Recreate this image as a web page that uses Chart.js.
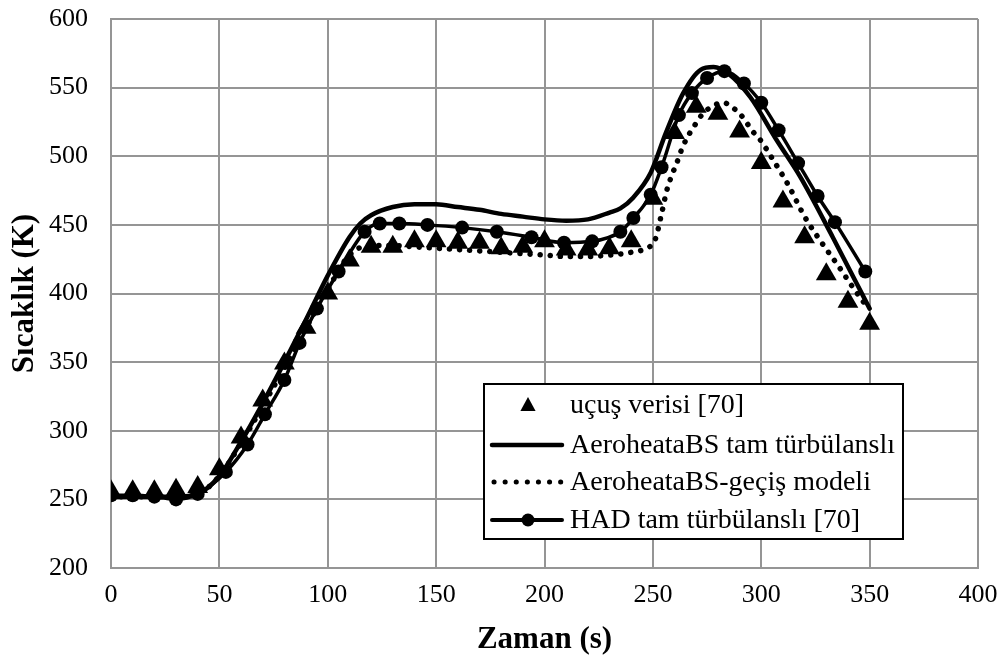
<!DOCTYPE html>
<html>
<head>
<meta charset="utf-8">
<script src="https://cdn.jsdelivr.net/npm/chart.js@4.4.1/dist/chart.umd.min.js"></script>
<style>
  html, body { margin: 0; padding: 0; background: #ffffff; }
  #wrap { width: 1000px; height: 659px; }
</style>
</head>
<body>
<div id="wrap"><canvas id="c" width="1000" height="659"></canvas></div>
<script>
// ---- Data ----
const xTicks = [0, 50, 100, 150, 200, 250, 300, 350, 400];
const yTicks = [200, 250, 300, 350, 400, 450, 500, 550, 600];

const seriesNames = [
  "uçuş verisi [70]",
  "AeroheataBS tam türbülanslı",
  "AeroheataBS-geçiş modeli",
  "HAD tam türbülanslı [70]"
];

// uçuş verisi (flight data, triangles)
const flightTime = [0, 10, 20, 30, 40, 50, 60, 70, 80, 90, 100, 110, 120, 130, 140, 150, 160, 170,
  180, 190, 200, 210, 220, 230, 240, 250, 260, 270, 280, 290, 300, 310, 320, 330, 340, 350];
const flightTemp = [256, 256, 256, 257, 259, 272, 295, 322, 349, 375, 400, 424, 434, 434, 438, 438, 437, 437,
  433, 434, 438, 432, 432, 433, 438, 469, 517, 536, 531, 518, 495, 467, 441, 414, 394, 378];

// AeroheataBS tam türbülanslı (solid line)
const turbTime = [0, 10, 20, 30, 40, 50, 60, 70, 80, 90, 100, 110, 115, 120, 130, 140, 150, 160, 170,
  180, 190, 200, 210, 220, 230, 235, 241, 249, 256, 264, 272, 278, 285, 295, 307, 318, 333, 350];
const turbTemp = [252, 252, 252, 252, 254, 267, 292, 320, 350, 381, 413, 441, 451, 457, 463, 465, 465, 463, 461,
  458, 456, 454, 453, 454, 459, 462, 470, 488, 517, 546, 563, 565, 560, 543, 512, 485, 441, 389];

// AeroheataBS-geçiş modeli (dotted line)
const transTime = [0, 10, 20, 30, 40, 50, 60, 70, 80, 90, 100, 110, 120, 130, 140, 150, 160, 170, 180, 190,
  200, 210, 220, 230, 240, 247, 251, 254, 256.4, 258.7, 261, 263.3, 265.6, 268.7, 272.5, 277, 282.5, 288,
  291.7, 295.6, 299.5, 305.6, 312.5, 320, 327.9, 335.6, 342.5, 349.4];
const transTemp = [252, 252, 252, 252, 254, 267, 291, 318, 346, 375, 403, 428, 435, 435, 434, 433, 432, 431, 430, 429,
  428, 427, 427, 428, 430, 433, 439, 458, 475, 486, 495, 505, 513, 521, 530, 536, 539, 534,
  528, 519, 512, 497, 479, 456, 437, 420, 404, 389];

// HAD tam türbülanslı [70] (line with circles)
const hadTime = [0, 10, 20, 30, 40, 53, 63, 71, 80, 87, 95, 105, 117, 124, 133, 146, 162, 178, 194, 209,
  222, 235, 241, 249, 254, 262, 268, 275, 283, 292, 300, 308, 317, 326, 334, 348];
const hadTemp = [253, 253, 252, 250, 254, 270, 290, 312, 337, 364, 389, 416, 445, 451, 451, 450, 448, 445, 441, 437,
  438, 445, 455, 472, 492, 530, 546, 557, 562, 553, 539, 519, 495, 471, 452, 416];

function pts(xs, ys) { return xs.map((x, i) => ({ x: x, y: ys[i] })); }

const FONT = "'Liberation Serif', 'Times New Roman', serif";
const GRID = '#959595';

function noPad(s) { s.paddingTop = 0; s.paddingBottom = 0; s.paddingLeft = 0; s.paddingRight = 0; }

// ---- Legend drawn inside the plot (like the reference) ----
const insideLegend = {
  id: 'insideLegend',
  afterDraw(chart) {
    const ctx = chart.ctx;
    const sx = chart.scales.x, sy = chart.scales.y;
    const bx = Math.round(sx.getPixelForValue(172.1)), by = Math.round(sy.getPixelForValue(334));
    const bw = 419, bh = 155;
    ctx.save();
    ctx.fillStyle = '#ffffff';
    ctx.fillRect(bx, by, bw, bh);
    ctx.strokeStyle = '#000000';
    ctx.lineWidth = 2;
    ctx.strokeRect(bx, by, bw, bh);
    const rows = [by + 21, by + 61, by + 98, by + 136];
    const lx0 = bx + 8, lx1 = bx + 78, lxc = bx + 44, tx = bx + 86;
    ctx.font = "28px " + FONT;
    ctx.fillStyle = '#000';
    ctx.textBaseline = 'middle';
    ctx.textAlign = 'left';
    ctx.beginPath();
    const r = 8;
    ctx.moveTo(lxc, rows[0] - r);
    ctx.lineTo(lxc + r * 0.95, rows[0] + r * 0.75);
    ctx.lineTo(lxc - r * 0.95, rows[0] + r * 0.75);
    ctx.closePath();
    ctx.fill();
    ctx.lineWidth = 4.5;
    ctx.lineCap = 'round';
    ctx.beginPath(); ctx.moveTo(lx0, rows[1]); ctx.lineTo(lx1, rows[1]); ctx.stroke();
    ctx.setLineDash([0.1, 11]);
    ctx.lineWidth = 5;
    ctx.beginPath(); ctx.moveTo(lx0 + 2, rows[2]); ctx.lineTo(lx1, rows[2]); ctx.stroke();
    ctx.setLineDash([]);
    ctx.lineWidth = 4;
    ctx.beginPath(); ctx.moveTo(lx0, rows[3]); ctx.lineTo(lx1, rows[3]); ctx.stroke();
    ctx.beginPath(); ctx.arc(lxc, rows[3], 6.5, 0, Math.PI * 2); ctx.fill();
    for (let i = 0; i < 4; i++) ctx.fillText(seriesNames[i], tx, rows[i] + 1);
    ctx.restore();
  }
};

new Chart(document.getElementById('c'), {
  type: 'scatter',
  data: {
    datasets: [
      {
        label: seriesNames[0],
        data: pts(flightTime, flightTemp),
        showLine: false,
        pointStyle: 'triangle',
        pointRadius: 12,
        pointBackgroundColor: '#000',
        pointBorderColor: '#000',
        pointBorderWidth: 0
      },
      {
        label: seriesNames[1],
        data: pts(turbTime, turbTemp),
        showLine: true,
        borderColor: '#000',
        borderWidth: 4.5,
        pointRadius: 0,
        cubicInterpolationMode: 'monotone',
        borderCapStyle: 'round',
        borderJoinStyle: 'round'
      },
      {
        label: seriesNames[2],
        data: pts(transTime, transTemp),
        showLine: true,
        borderColor: '#000',
        borderWidth: 5.5,
        borderDash: [0.1, 10],
        borderCapStyle: 'round',
        pointRadius: 0,
        cubicInterpolationMode: 'monotone'
      },
      {
        label: seriesNames[3],
        data: pts(hadTime, hadTemp),
        showLine: true,
        borderColor: '#000',
        borderWidth: 3.5,
        pointStyle: 'circle',
        pointRadius: 7,
        pointBackgroundColor: '#000',
        pointBorderColor: '#000',
        pointBorderWidth: 0,
        cubicInterpolationMode: 'monotone'
      }
    ]
  },
  options: {
    responsive: false,
    devicePixelRatio: 1,
    animation: false,
    layout: { padding: { top: 19, right: 22, left: 0, bottom: 0 } },
    plugins: { legend: { display: false }, tooltip: { enabled: false } },
    scales: {
      x: {
        type: 'linear',
        min: 0, max: 400,
        afterBuildTicks(s) { s.ticks = xTicks.map(v => ({ value: v })); },
        afterFit(s) { s.height = 91; noPad(s); },
        ticks: { color: '#000', font: { family: FONT, size: 26 }, padding: 12, maxRotation: 0 },
        grid: { color: GRID, lineWidth: 2, drawTicks: false },
        border: { color: GRID, width: 2 },
        title: { display: true, text: 'Zaman (s)', color: '#000',
                 font: { family: FONT, size: 31, weight: 'bold' }, padding: { top: 3, bottom: 0 } }
      },
      y: {
        type: 'linear',
        min: 200, max: 600,
        afterBuildTicks(s) { s.ticks = yTicks.map(v => ({ value: v })); },
        afterFit(s) { s.width = 111; noPad(s); },
        ticks: { color: '#000', font: { family: FONT, size: 26 }, padding: 23 },
        grid: { color: GRID, lineWidth: 2, drawTicks: false },
        border: { color: GRID, width: 2 },
        title: { display: true, text: 'Sıcaklık (K)', color: '#000',
                 font: { family: FONT, size: 31, weight: 'bold' }, padding: { top: 6, bottom: 0 } }
      }
    }
  },
  plugins: [insideLegend]
});
</script>
</body>
</html>
